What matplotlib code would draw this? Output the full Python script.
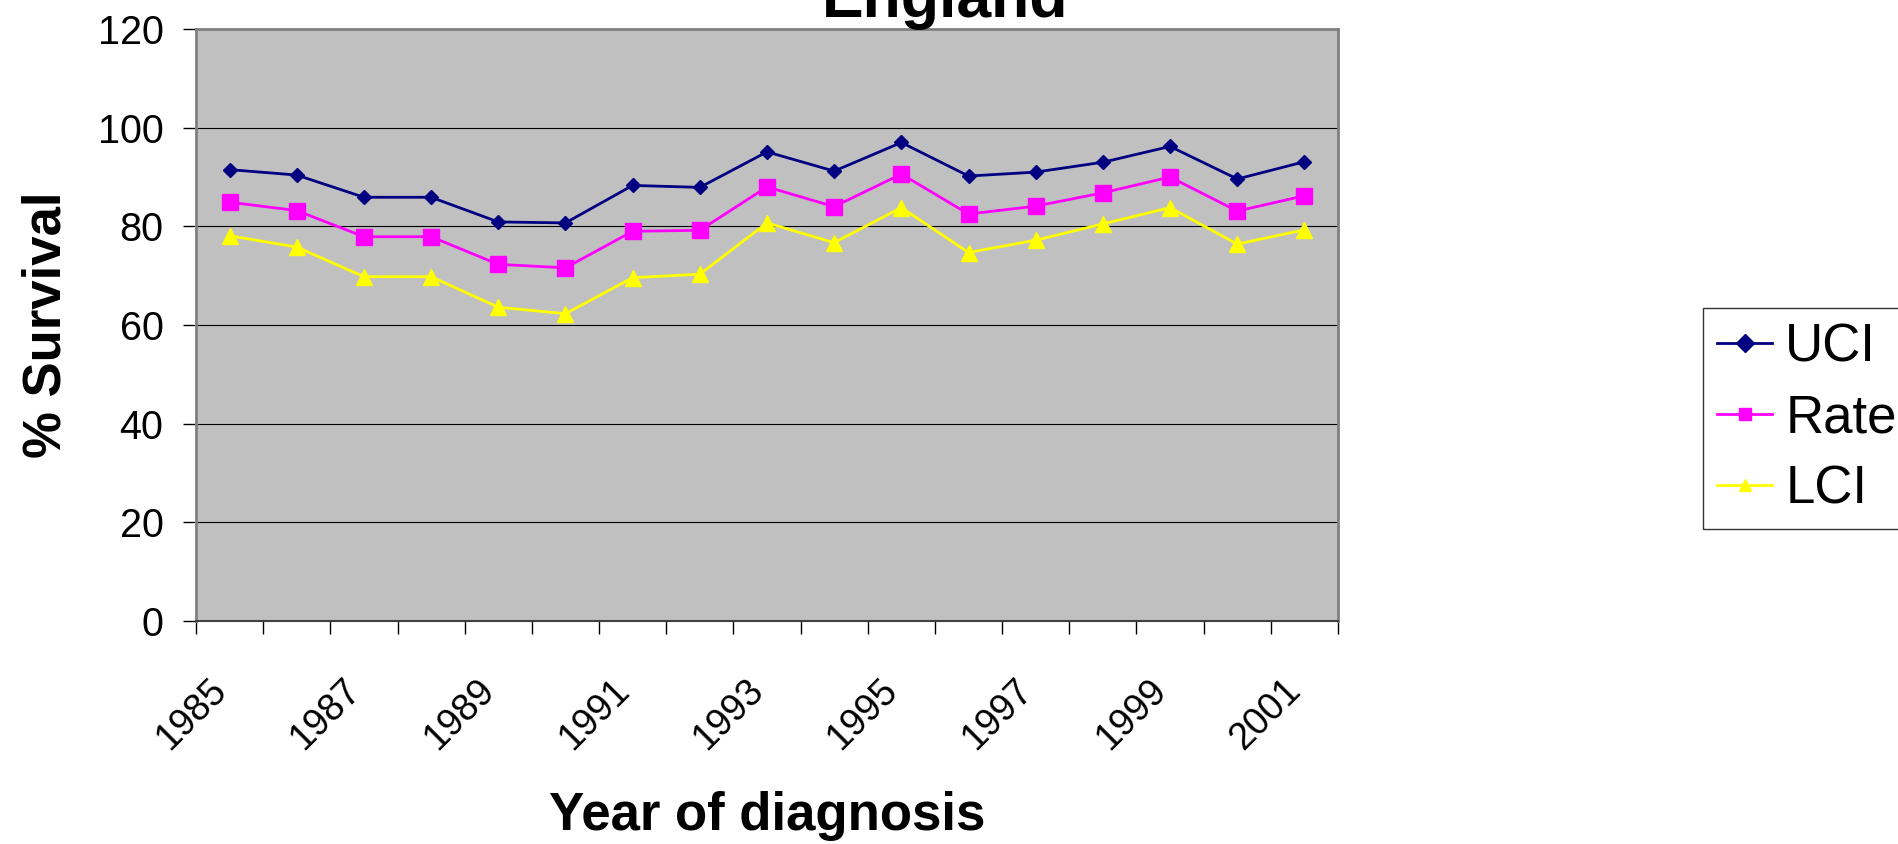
import numpy as np
import matplotlib
matplotlib.use('Agg')
import matplotlib.pyplot as plt
import matplotlib.transforms as mtransforms

plt.rcParams['font.family'] = ['Liberation Sans', 'DejaVu Sans']

# Survival data
years = list(range(1985, 2002))
uci = [91.5, 90.4, 85.9, 85.9, 80.9, 80.7, 88.3, 87.9, 95.1, 91.2, 97.0,
       90.2, 91.0, 93.0, 96.2, 89.6, 93.1]
rate = [84.9, 83.2, 77.9, 77.9, 72.3, 71.6, 79.0, 79.2, 88.0, 84.0, 90.6,
        82.5, 84.1, 86.8, 90.0, 83.1, 86.2]
lci = [78.1, 75.8, 69.8, 69.8, 63.6, 62.3, 69.6, 70.3, 80.7, 76.7, 83.8,
       74.7, 77.2, 80.5, 83.8, 76.4, 79.3]
yticks = [0, 20, 40, 60, 80, 100, 120]

fig = plt.figure(figsize=(18.99, 8.44), dpi=100)
ax = fig.add_axes([0.1032, 0.2642, 0.6014, 0.7014])
ax.set_facecolor('#C0C0C0')

x = np.arange(len(years))
ax.plot(x, uci, color='#000080', lw=2, marker='D', ms=7.5, label='UCI', zorder=3)
ax.plot(x, rate, color='#FF00FF', lw=2, marker='s', ms=11.5, label='Rate', zorder=3)
ax.plot(x, lci, color='#FFFF00', lw=2, marker='^', ms=12, label='LCI', zorder=3)

ax.set_xlim(-0.5, len(years) - 0.5)
ax.set_ylim(0, 120)
ax.set_yticks(yticks)
ax.yaxis.grid(True, color='black', lw=0.8)
ax.set_axisbelow(True)

# category boundaries get tick marks, every second category gets a label
ax.set_xticks(np.arange(-0.5, len(years), 1.0))
ax.set_xticklabels([])
ax.set_xticks(x[::2], minor=True)
ax.set_xticklabels([str(y) for y in years[::2]], minor=True, rotation=45,
                   ha='right', va='center', rotation_mode='anchor')
ax.tick_params(axis='x', which='major', direction='out', length=9.4, width=1, color='black')
ax.tick_params(axis='x', which='minor', length=0, pad=46, labelsize=27)
ax.tick_params(axis='y', direction='out', length=9.4, width=1, color='black',
               pad=14, labelsize=28.5)
shift = mtransforms.ScaledTranslation(-0.09, 0, fig.dpi_scale_trans)
for lab in ax.get_xticklabels(minor=True):
    lab.set_transform(lab.get_transform() + shift)

for side in ['top', 'right', 'left']:
    ax.spines[side].set_color('#808080')
    ax.spines[side].set_linewidth(2)
ax.spines['bottom'].set_color('#404040')
ax.spines['bottom'].set_linewidth(1.5)

ax.set_xlabel('Year of diagnosis', fontsize=38, fontweight='bold')
ax.xaxis.label.set_va('baseline')
ax.xaxis.set_label_coords(0.5, -0.353)
ax.set_ylabel('% Survival', fontsize=38, fontweight='bold')
ax.yaxis.label.set_va('center')
ax.yaxis.set_label_coords(-0.131, 0.5)

fig.text(945 / 1899, 1 - 17 / 844, 'England', fontsize=45, fontweight='bold',
         ha='center', va='baseline')

leg = fig.legend(loc='upper left', bbox_to_anchor=(1703 / 1899, 1 - 308 / 844),
                 fontsize=38, frameon=True, fancybox=False, handlelength=1.04,
                 handletextpad=0.25, borderpad=0.27, labelspacing=0.4,
                 borderaxespad=0)
leg.get_frame().set_edgecolor('black')
leg.get_frame().set_linewidth(1)
for h in leg.legend_handles:
    h.set_markersize(9)

fig.savefig('out.png', dpi=100)
